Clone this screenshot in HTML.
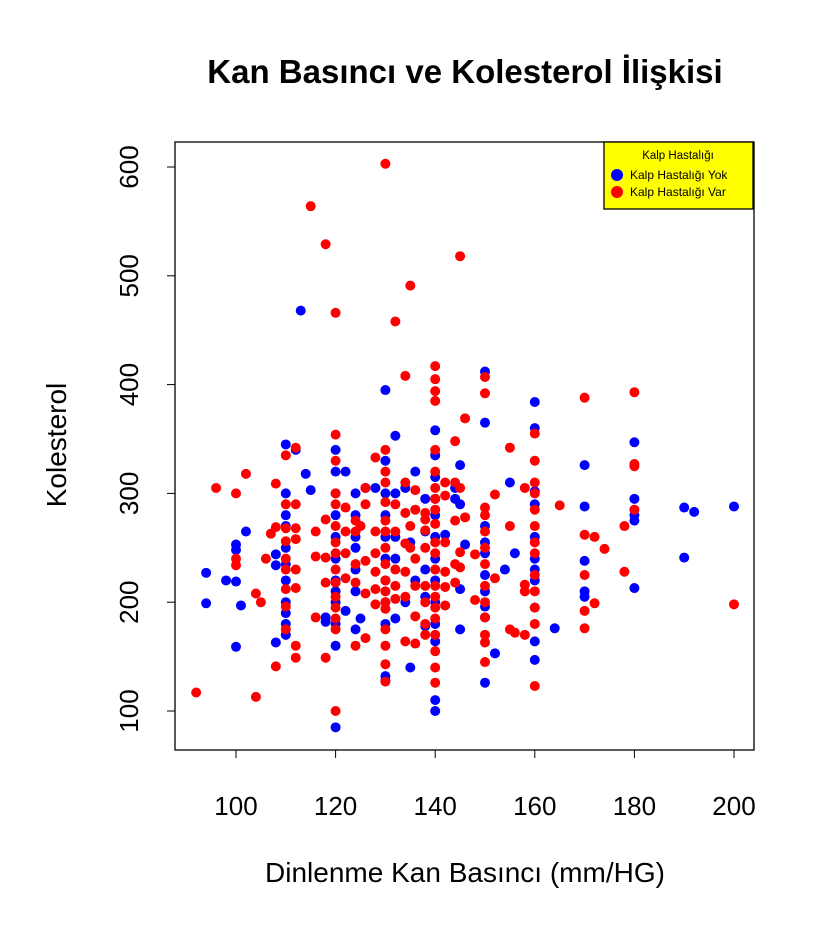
<!DOCTYPE html>
<html><head><meta charset="utf-8"><style>
body{margin:0;background:#fff}
svg text{font-family:"Liberation Sans",Arial,sans-serif}
</style></head><body>
<svg id="chart" width="827" height="926" xmlns="http://www.w3.org/2000/svg">
<rect width="827" height="926" fill="#fff"/>
<text x="465" y="83" font-size="33" font-weight="bold" text-anchor="middle">Kan Basıncı ve Kolesterol İlişkisi</text>
<g id="points"></g>
<rect x="175" y="142" width="579" height="608" fill="none" stroke="#000" stroke-width="1.3"/>
<g id="axes"></g>
<text x="465" y="882" font-size="28" text-anchor="middle">Dinlenme Kan Basıncı (mm/HG)</text>
<text transform="translate(66,445) rotate(-90)" font-size="28" text-anchor="middle">Kolesterol</text>
<g>
<rect x="604" y="142" width="149" height="67" fill="#ffff00" stroke="#000" stroke-width="1.3"/>
<text x="678" y="159" font-size="11.5" text-anchor="middle">Kalp Hastalığı</text>
<circle cx="617" cy="175" r="6" fill="#0000ff"/>
<text x="630" y="179" font-size="12">Kalp Hastalığı Yok</text>
<circle cx="617" cy="192" r="6" fill="#ff0000"/>
<text x="630" y="196" font-size="12">Kalp Hastalığı Var</text>
</g>
</svg>
<script>
const xTicks=[100,120,140,160,180,200];
const yTicks=[100,200,300,400,500,600];
const blueBP=[94,94,98,100,100,100,100,101,102,108,108,108,110,110,110,110,110,110,110,110,110,110,110,112,113,114,115,118,118,120,120,120,120,120,120,120,120,120,120,120,120,122,122,124,124,124,124,124,124,124,125,126,128,130,130,130,130,130,130,130,130,130,130,130,132,132,132,132,132,134,134,135,135,136,136,138,138,138,138,138,140,140,140,140,140,140,140,140,140,140,140,140,140,142,144,144,145,145,145,145,146,150,150,150,150,150,150,150,150,150,150,152,154,156,155,160,160,160,160,160,160,160,160,160,160,160,164,170,170,170,170,170,180,180,180,180,180,190,190,192,200];
const blueChol=[227,199,220,253,248,219,159,197,265,244,234,163,345,300,280,270,250,235,220,200,190,180,170,340,468,318,303,182,186,340,320,300,280,260,240,220,200,180,160,85,210,320,192,250,260,280,300,230,210,175,185,305,305,395,330,300,280,260,240,220,200,180,132,128,353,300,260,240,185,200,305,140,255,320,220,295,265,230,205,178,358,335,315,295,280,260,240,220,200,180,164,110,100,262,295,305,326,290,212,175,253,412,365,270,255,245,225,210,196,186,126,153,230,245,310,384,360,302,290,260,240,230,220,195,164,147,176,326,288,238,210,205,347,295,280,275,213,287,241,283,288];
const redBP=[92,96,100,100,100,102,104,104,105,106,107,108,108,108,110,110,110,110,110,110,110,110,110,112,112,112,112,112,112,112,112,115,116,116,116,118,118,118,118,118,120,120,120,120,120,120,120,120,120,120,120,120,120,120,120,122,122,122,122,124,124,124,124,124,125,126,126,126,126,126,128,128,128,128,128,128,130,130,130,130,130,130,130,130,130,130,130,130,130,130,130,130,130,132,132,132,132,132,132,134,134,134,134,134,134,134,135,135,135,136,136,136,136,136,136,138,138,138,138,138,138,138,138,140,140,140,140,140,140,140,140,140,140,140,140,140,140,140,140,140,140,140,140,140,142,142,142,142,142,142,144,144,144,144,144,145,145,145,145,146,146,148,148,150,150,150,150,150,150,150,150,150,150,150,150,150,152,152,155,155,155,156,158,158,158,158,160,160,160,160,160,160,160,160,160,160,160,160,160,165,170,170,170,170,170,172,172,174,178,178,180,180,180,180,200];
const redChol=[117,305,300,240,234,318,208,113,200,240,263,309,269,141,290,268,256,240,230,212,196,175,335,342,290,268,258,230,213,160,149,564,265,242,186,529,276,241,218,149,466,354,330,300,290,270,255,245,230,218,205,195,185,175,100,287,265,245,222,275,265,235,218,160,270,305,290,238,208,167,333,265,245,228,212,198,603,340,320,310,292,275,265,250,235,220,210,200,194,175,160,143,127,458,290,265,230,215,203,408,310,282,254,228,205,164,491,270,250,303,285,240,215,187,162,282,276,266,250,215,200,180,170,417,405,394,385,340,320,305,295,285,272,255,245,230,215,205,195,185,170,155,140,126,310,298,255,228,214,197,348,310,275,235,218,518,305,246,232,369,278,244,202,407,392,287,280,265,250,235,215,200,186,170,163,145,299,222,342,270,175,172,305,216,210,170,355,330,310,300,285,270,255,245,225,210,195,180,123,289,388,262,225,192,176,260,199,249,270,228,393,327,325,285,198];
const NS="http://www.w3.org/2000/svg";
function sx(v){return 236+(v-100)*4.98;}
function sy(v){return 711-(v-100)*1.088;}
const pts=document.getElementById('points');
function draw(xs,ys,col,name){
 for(let i=0;i<xs.length;i++){
  const c=document.createElementNS(NS,'circle');
  c.setAttribute('cx',sx(xs[i]));c.setAttribute('cy',sy(ys[i]));c.setAttribute('r',5);c.setAttribute('fill',col);
  
  
  pts.appendChild(c);
 }
}
draw(blueBP,blueChol,'#0000ff','point-no-disease');
draw(redBP,redChol,'#ff0000','point-disease');
const ax=document.getElementById('axes');
xTicks.forEach(t=>{
 const l=document.createElementNS(NS,'line');
 l.setAttribute('x1',sx(t));l.setAttribute('x2',sx(t));l.setAttribute('y1',750);l.setAttribute('y2',758);l.setAttribute('stroke','#000');
 
 
 ax.appendChild(l);
 const tx=document.createElementNS(NS,'text');
 tx.setAttribute('x',sx(t));tx.setAttribute('y',815);tx.setAttribute('font-size','26');tx.setAttribute('text-anchor','middle');
 tx.textContent=t;
 
 
 ax.appendChild(tx);
});
yTicks.forEach(t=>{
 const l=document.createElementNS(NS,'line');
 l.setAttribute('x1',167);l.setAttribute('x2',175);l.setAttribute('y1',sy(t));l.setAttribute('y2',sy(t));l.setAttribute('stroke','#000');
 
 
 ax.appendChild(l);
 const tx=document.createElementNS(NS,'text');
 tx.setAttribute('transform','translate(138,'+sy(t)+') rotate(-90)');tx.setAttribute('font-size','26');tx.setAttribute('text-anchor','middle');
 tx.textContent=t;
 
 
 ax.appendChild(tx);
});
</script>
</body></html>
